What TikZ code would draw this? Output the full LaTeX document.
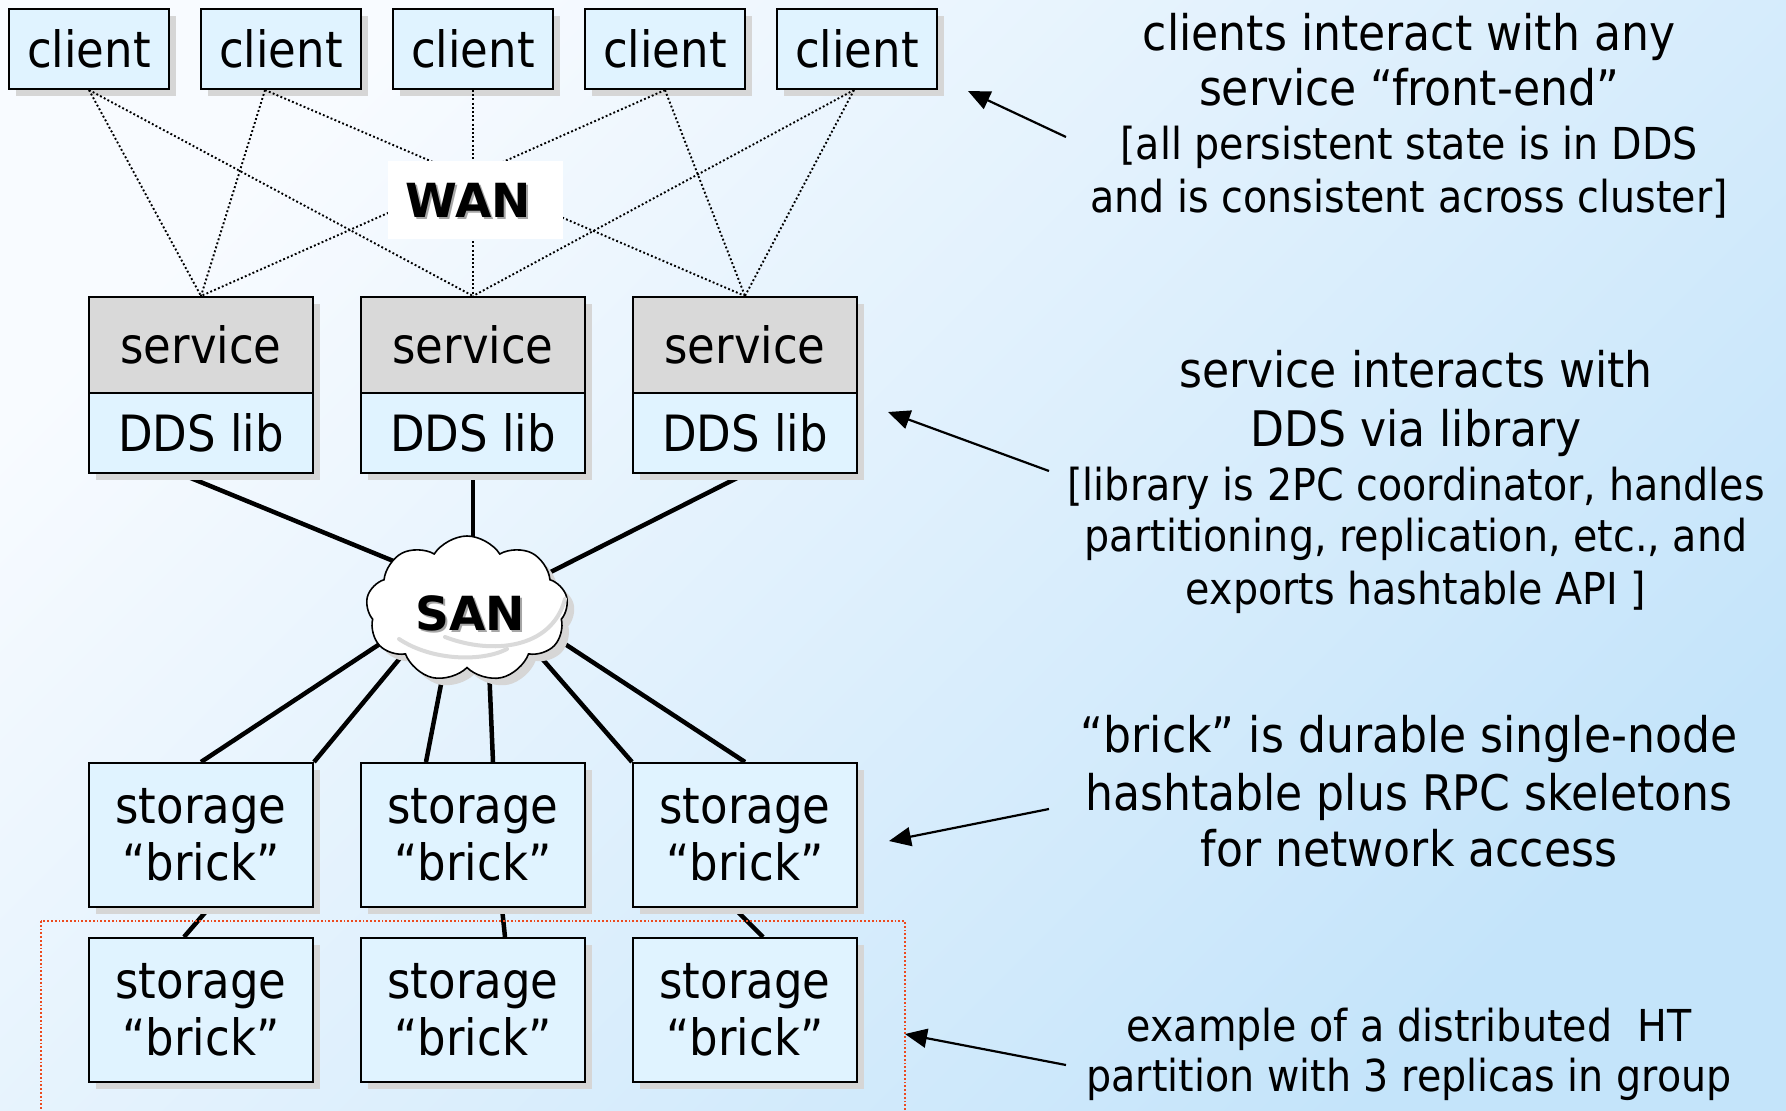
\documentclass[tikz,border=0pt]{standalone}
\usepackage{fontspec}
\setmainfont[FakeStretch=0.9]{DejaVu Sans}
\newfontfamily\heavyfont{DejaVu Sans}
\usetikzlibrary{shapes.symbols,arrows.meta,calc}

\definecolor{boxfill}{HTML}{E0F3FF}
\definecolor{svcgray}{HTML}{D9D9D9}
\definecolor{shadowgray}{HTML}{D6D6D6}
\definecolor{bgtop}{HTML}{F8FBFF}
\definecolor{bgbot}{HTML}{C4E4FA}
\definecolor{groupred}{HTML}{EC4A1E}
\definecolor{puffgray}{HTML}{DADADA}

\pgfdeclarelayer{bg}
\pgfdeclarelayer{back}
\pgfsetlayers{bg,back,main}

\tikzset{
  shadowed/.style={preaction={fill=shadowgray, draw=none,
      transform canvas={xshift=7pt, yshift=-7pt}}},
  box/.style={shadowed, draw=black, line width=2pt, fill=boxfill,
      inner sep=0pt, align=center,
      font=\fontsize{50}{57}\selectfont},
  clientbox/.style={box, minimum width=160pt, minimum height=80pt},
  svcbox/.style={box, fill=svcgray, minimum width=224pt, minimum height=96pt},
  libbox/.style={box, minimum width=224pt, minimum height=80pt},
  brickbox/.style={box, minimum width=224pt, minimum height=144pt},
  wanlink/.style={line width=1.9pt, dash pattern=on 1.9pt off 2.3pt},
  sanlink/.style={line width=4.5pt},
  bigword/.style={font=\heavyfont\bfseries\fontsize{47}{52}\selectfont, inner sep=0pt},
  bigshade/.style={bigword, text=black!35},
  note/.style={anchor=base, inner sep=0pt, font=\fontsize{49}{55}\selectfont},
  smallnote/.style={note, font=\fontsize{44}{50}\selectfont},
  pointer/.style={line width=2.2pt, -{Triangle[length=22pt, width=19pt]}},
}

\begin{document}
\begin{tikzpicture}[x=1pt, y=-1pt]
\useasboundingbox (0,0) rectangle (1786,1111);

% background
\begin{pgfonlayer}{bg}
  \shade[top color=bgtop, bottom color=bgbot, shading angle=45]
    (0,0) rectangle (1786,1111);
\end{pgfonlayer}

% clients
\foreach \i/\x in {1/89,2/281,3/473,4/665,5/857}
  \node[clientbox] (c\i) at (\x,49) {client};

% service front-ends with their DDS library
\foreach \i/\x in {1/201,2/473,3/745} {
  \node[svcbox] (s\i) at (\x,345) {service};
  \node[libbox] (l\i) at (\x,433) {DDS lib};
}

% wide-area links from clients to front-ends
\draw[wanlink] (c1.south) -- (s1.north);
\draw[wanlink] (c1.south) -- (s2.north);
\draw[wanlink] ($(c2.south)+(-16,0)$) -- (s1.north);
\draw[wanlink] ($(c2.south)+(-16,0)$) -- (s3.north);
\draw[wanlink] (c3.south) -- (s2.north);
\draw[wanlink] (c4.south) -- (s1.north);
\draw[wanlink] (c4.south) -- (s3.north);
\draw[wanlink] ($(c5.south)+(-3,0)$) -- (s2.north);
\draw[wanlink] ($(c5.south)+(-3,0)$) -- (s3.north);

% WAN label
\node[fill=white, minimum width=175pt, minimum height=78pt] (wan) at (475,200) {};
\node[bigshade] (wanshade) at ($(wan)+(-4.5,2.5)$) {WAN};
\node[bigword] (wantext) at ($(wan)+(-7,0)$) {WAN};

% SAN cloud
\node[cloud, cloud puffs=9, cloud puff arc=115, aspect=1.4, draw=black,
      line width=1.6pt, fill=white, shadowed,
      minimum width=202pt, minimum height=146pt] (san) at (467,609) {};
\draw[puffgray, line width=4pt, line cap=round]
  ($(san)+(-68,30)$) .. controls ($(san)+(-35,52)$) and ($(san)+(15,53)$) .. ($(san)+(40,40)$);
\draw[puffgray, line width=4pt, line cap=round]
  ($(san)+(-22,28)$) .. controls ($(san)+(25,46)$) and ($(san)+(85,40)$) .. ($(san)+(98,-10)$);
\node[bigshade] (sanshade) at ($(san)+(5.5,6.5)$) {SAN};
\node[bigword] (santext) at ($(san)+(3,4)$) {SAN};

% storage bricks: one replica group per column
\foreach \i/\x in {1/201,2/473,3/745} {
  \node[brickbox] (b\i) at (\x,835) {storage\\“brick”};
  \node[brickbox] (r\i) at (\x,1010) {storage\\“brick”};
}

% system-area network links, behind the boxes and the cloud
\begin{pgfonlayer}{back}
  \draw[sanlink] ($(l1.south)+(-20,0)$) -- ($(san)+(-37,-33)$);
  \draw[sanlink] (l2.south) -- ($(san)+(6,-30)$);
  \draw[sanlink] (l3.south) -- ($(san)+(40,-15)$);
  \draw[sanlink] (b1.north) -- ($(san)+(-57,15)$);
  \draw[sanlink] (b1.north east) -- ($(san)+(-47,25)$);
  \draw[sanlink] ($(b2.north)+(-47,0)$) -- ($(san)+(-18,34)$);
  \draw[sanlink] ($(b2.north)+(20,0)$) -- ($(san)+(21,34)$);
  \draw[sanlink] (b3.north west) -- ($(san)+(58,30)$);
  \draw[sanlink] (b3.north) -- ($(san)+(69,16)$);
  \draw[sanlink] ($(b1.south)+(8,0)$) -- ($(r1.north)+(-17,0)$);
  \draw[sanlink] ($(b2.south)+(29,0)$) -- ($(r2.north)+(32,0)$);
  \draw[sanlink] ($(b3.south)+(-11,0)$) -- ($(r3.north)+(18,0)$);
\end{pgfonlayer}

% replica group outline
\draw[groupred, line width=1.8pt, dash pattern=on 1.8pt off 2pt]
  (41,921) coordinate (grpnw) rectangle (905,1125) coordinate (grpse);
\coordinate (grpedge) at (905,1034);

% annotations
\node[note] (n1a) at (1409,50) {clients interact with any};
\node[note] (n1b) at (1409,105) {service “front-end”};
\node[smallnote] (n1c) at (1409,159) {[all persistent state is in DDS};
\node[smallnote] (n1d) at (1409,212) {and is consistent across cluster]};

\node[note] (n2a) at (1416,387) {service interacts with};
\node[note] (n2b) at (1416,446) {DDS via library};
\node[smallnote] (n2c) at (1416,500) {[library is 2PC coordinator, handles};
\node[smallnote] (n2d) at (1416,551) {partitioning, replication, etc., and};
\node[smallnote] (n2e) at (1416,604) {exports hashtable API ]};

\node[note] (n3a) at (1409,752) {“brick” is durable single-node};
\node[note] (n3b) at (1409,810) {hashtable plus RPC skeletons};
\node[note] (n3c) at (1409,866) {for network access};

\node[smallnote] (n4a) at (1409,1041) {example of a distributed\ \ HT};
\node[smallnote] (n4b) at (1409,1091) {partition with 3 replicas in group};

% pointers from the annotations
\coordinate (p1) at (1066,137);
\coordinate (p2) at (1049,471);
\coordinate (p3) at (1049,809);
\coordinate (p4) at (1066,1065);
\coordinate (t1) at (968,91);
\coordinate (t2) at (888,412);
\coordinate (t3) at (889,841);
\draw[pointer] (p1) -- (t1);
\draw[pointer] (p2) -- (t2);
\draw[pointer] (p3) -- (t3);
\draw[pointer] (p4) -- (grpedge);
\end{tikzpicture}
\end{document}
